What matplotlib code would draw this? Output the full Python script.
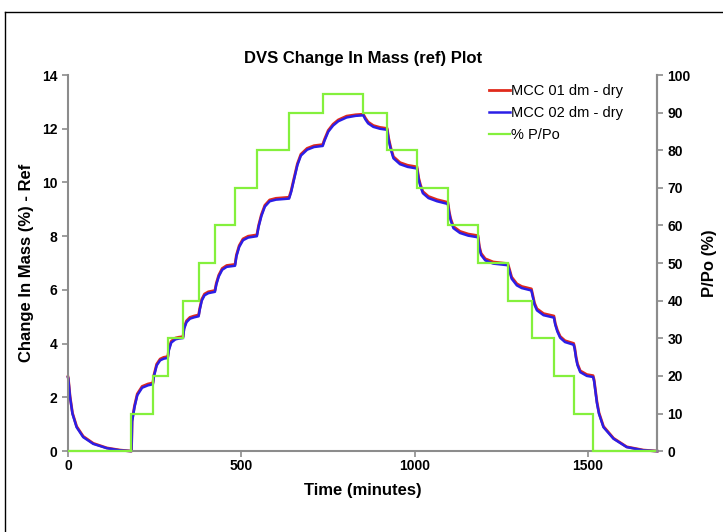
import matplotlib
matplotlib.use('Agg')
import matplotlib.pyplot as plt
from matplotlib.lines import Line2D

plt.rcParams['font.family'] = ['Liberation Sans', 'DejaVu Sans']

# time axis shared by both mass curves (minutes)
time = [0, 1, 6, 13, 25, 44, 73, 112, 150, 183,
        184, 185, 192, 200, 214, 231, 245,
        248, 256, 266, 276, 288,
        291, 298, 310, 320, 332,
        335, 342, 352, 364, 377,
        380, 386, 394, 405, 424,
        428, 435, 445, 458, 482,
        486, 494, 505, 520, 545,
        550, 558, 568, 582, 600, 638,
        644, 652, 662, 672, 690, 710, 735,
        740, 751, 765, 780, 804, 830, 852,
        858, 866, 881, 900, 921,
        925, 931, 939, 958, 980, 1007,
        1012, 1017, 1024, 1040, 1065, 1096,
        1100, 1104, 1112, 1131, 1155, 1183,
        1187, 1192, 1204, 1227, 1269,
        1274, 1280, 1295, 1309, 1337,
        1341, 1346, 1353, 1372, 1402,
        1406, 1412, 1420, 1434, 1459,
        1462, 1466, 1470, 1478, 1497, 1515,
        1518, 1522, 1526, 1532, 1545, 1574, 1612, 1660, 1700]

mcc02 = [2.75, 2.70, 2.01, 1.39, 0.89, 0.52, 0.27, 0.11, 0.03, 0.00,
         0.40, 1.10, 1.64, 2.08, 2.36, 2.45, 2.49,
         2.78, 3.19, 3.38, 3.44, 3.47,
         3.75, 4.04, 4.16, 4.19, 4.21,
         4.55, 4.80, 4.93, 4.98, 5.02,
         5.25, 5.60, 5.80, 5.88, 5.93,
         6.20, 6.50, 6.75, 6.86, 6.90,
         7.25, 7.60, 7.85, 7.95, 8.00,
         8.35, 8.75, 9.10, 9.30, 9.36, 9.40,
         9.65, 10.10, 10.65, 11.00, 11.22, 11.32, 11.36,
         11.55, 11.89, 12.12, 12.28, 12.42, 12.48, 12.50,
         12.35, 12.20, 12.07, 12.00, 11.96,
         11.60, 11.25, 10.90, 10.68, 10.58, 10.52,
         10.10, 9.85, 9.60, 9.42, 9.30, 9.20,
         8.85, 8.60, 8.30, 8.12, 8.02, 7.96,
         7.55, 7.30, 7.10, 6.98, 6.92,
         6.70, 6.42, 6.17, 6.07, 5.98,
         5.75, 5.45, 5.24, 5.06, 4.97,
         4.70, 4.45, 4.22, 4.06, 3.96,
         3.80, 3.45, 3.20, 2.94, 2.80, 2.76,
         2.60, 2.20, 1.80, 1.39, 0.89, 0.46, 0.15, 0.03, 0.00]

mcc01 = [2.77, 2.72, 2.04, 1.42, 0.92, 0.55, 0.29, 0.12, 0.04, 0.00,
         0.42, 1.14, 1.69, 2.13, 2.41, 2.50, 2.54,
         2.83, 3.24, 3.43, 3.49, 3.52,
         3.80, 4.09, 4.21, 4.24, 4.26,
         4.60, 4.85, 4.98, 5.03, 5.07,
         5.30, 5.65, 5.85, 5.93, 5.98,
         6.25, 6.55, 6.80, 6.91, 6.95,
         7.30, 7.65, 7.90, 8.00, 8.05,
         8.40, 8.80, 9.15, 9.35, 9.41, 9.45,
         9.70, 10.15, 10.70, 11.05, 11.27, 11.37, 11.41,
         11.60, 11.94, 12.17, 12.33, 12.47, 12.52, 12.54,
         12.40, 12.25, 12.12, 12.05, 12.01,
         11.66, 11.31, 10.96, 10.74, 10.64, 10.58,
         10.16, 9.91, 9.66, 9.48, 9.36, 9.26,
         8.91, 8.66, 8.36, 8.18, 8.08, 8.02,
         7.61, 7.36, 7.16, 7.04, 6.98,
         6.76, 6.48, 6.23, 6.13, 6.04,
         5.81, 5.51, 5.30, 5.12, 5.03,
         4.75, 4.50, 4.27, 4.11, 4.01,
         3.85, 3.50, 3.25, 2.99, 2.85, 2.81,
         2.65, 2.25, 1.85, 1.43, 0.92, 0.48, 0.16, 0.04, 0.00]

# humidity programme: step edges (minutes) and % P/Po level of each step
pp_edges = [0, 183, 246, 289, 333, 378, 424, 482, 545, 638, 735, 852,
            921, 1008, 1097, 1184, 1270, 1338, 1403, 1460, 1516, 1700]
pp_levels = [0, 10, 20, 30, 40, 50, 60, 70, 80, 90, 95,
             90, 80, 70, 60, 50, 40, 30, 20, 10, 0]

fig = plt.figure(figsize=(7.23, 5.32), dpi=100)
ax = fig.add_axes([0.094, 0.152, 0.815, 0.707])
ax2 = ax.twinx()

l1, = ax.plot(time, mcc01, color='#e02a1c', lw=2.0, clip_on=False, label='MCC 01 dm - dry')
l2, = ax.plot(time, mcc02, color='#2b1ee6', lw=1.8, clip_on=False, label='MCC 02 dm - dry')
l3 = ax2.stairs(pp_levels, pp_edges, color='#84f03c', lw=1.6, clip_on=False, label='% P/Po')

ax.set_xlim(0, 1700)
ax.set_ylim(0, 14)
ax2.set_ylim(0, 100)
ax.set_xticks([0, 500, 1000, 1500])
ax.set_yticks(range(0, 15, 2))
ax2.set_yticks(range(0, 101, 10))

grey = '#8c8c8c'
for a in (ax, ax2):
    a.spines['top'].set_visible(False)
    for s in ('left', 'bottom', 'right'):
        a.spines[s].set_color(grey)
        a.spines[s].set_linewidth(1.5)
    a.tick_params(colors=grey, labelcolor='black', width=1.2, length=4, direction='out',
                  labelsize=10)
    for lab in a.get_xticklabels() + a.get_yticklabels():
        lab.set_fontweight('bold')
ax.tick_params(axis='x', pad=2)
ax2.spines['left'].set_visible(False)
ax2.spines['bottom'].set_visible(False)

ax.set_title('DVS Change In Mass (ref) Plot', fontsize=12, fontweight='bold', pad=9)
ax.set_xlabel('Time (minutes)', fontsize=12, fontweight='bold', labelpad=7)
ax.set_ylabel('Change In Mass (%) - Ref', fontsize=12, fontweight='bold', labelpad=6)
ax2.set_ylabel('P/Po (%)', fontsize=12, fontweight='bold', labelpad=8)

ax2.legend(handles=[l1, l2, l3], loc='upper left', bbox_to_anchor=(0.70, 1.0),
           frameon=False, fontsize=10.5, handlelength=1.4, handletextpad=0.1,
           labelspacing=0.55, borderaxespad=0.2)

# outer chart frame (left and top edges visible in the screenshot)
fig.add_artist(Line2D([5 / 723, 5 / 723], [0, 1 - 12 / 532], transform=fig.transFigure,
                      color='black', lw=1.0))
fig.add_artist(Line2D([5 / 723, 1], [1 - 12 / 532, 1 - 12 / 532], transform=fig.transFigure,
                      color='black', lw=1.0))

fig.savefig('out.png', dpi=100)
